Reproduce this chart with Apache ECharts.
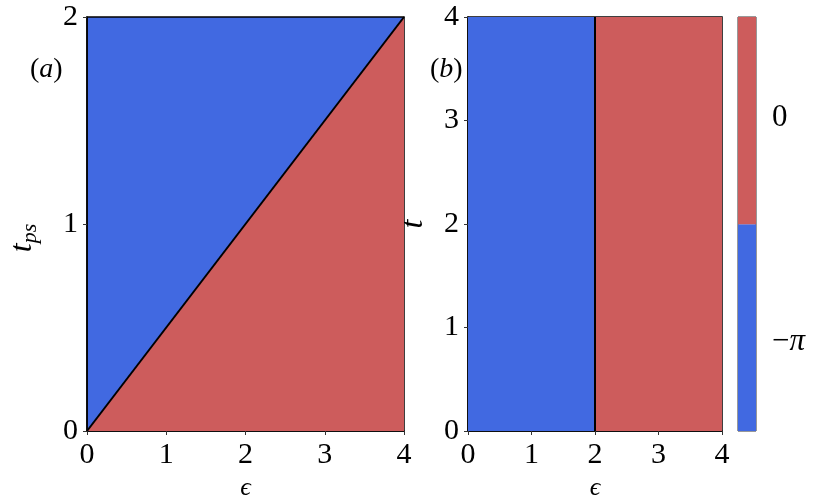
<!DOCTYPE html>
<html>
<head>
<meta charset="utf-8">
<script src="https://cdn.jsdelivr.net/npm/echarts@6/dist/echarts.min.js"></script>
<style>
  html, body { margin: 0; padding: 0; background: #fff; }
  #chart { width: 830px; height: 498px; }
</style>
</head>
<body>
<div id="chart"></div>
<script>
// panel (a): phase boundary t_ps = eps / 2
const epsTicks = [0, 1, 2, 3, 4]
const tpsTicks = [0, 1, 2]
const boundaryA = [[0, 0], [4, 2]]

// panel (b): boundary at eps = 2, t from 0 to 4
const tTicks = [0, 1, 2, 3, 4]
const boundaryB = [[2, 0], [2, 4]]
const regionsB = [[0, 2, 0], [2, 4, 1]]   // [eps0, eps1, colour index]

// colorbar
const cbBounds = [-4.39, -1.49, 1.42]
const cbTicks = [-Math.PI, 0]
const cbLabels = ["{m|\u2212}{p|\u03c0}", "{m|0}"]

const colors = ["#4169e1", "#cd5c5c"]
const font = "'Liberation Serif', 'DejaVu Serif', serif"

const chartDom = document.getElementById("chart")
const myChart = echarts.init(chartDom)

const axisCommon = {
    type: "value",
    axisLine: {show: true, lineStyle: {color: "#000", width: 1.5}},
    axisTick: {show: true, inside: false, length: 4, lineStyle: {color: "#333", width: 1}},
    splitLine: {show: false},
    axisLabel: {color: "#000", fontSize: 30, fontFamily: font, margin: 9}
}

const rectItem = (params, api) => {
    const p0 = api.coord([api.value(0), api.value(3)])
    const p1 = api.coord([api.value(1), api.value(2)])
    return {
        type: "rect",
        shape: {x: p0[0], y: p0[1], width: p1[0] - p0[0], height: p1[1] - p0[1]},
        style: {fill: colors[api.value(4)]}
    }
}

const epsName = {
    name: "\u03f5", nameLocation: "middle", nameGap: 40,
    nameTextStyle: {fontSize: 26, fontFamily: font, fontStyle: "italic", color: "#000"}
}

const option = {
    animation: false,
    grid: [
        {left: 87, top: 17, width: 317, height: 414, outerBoundsMode: "none", show: true, backgroundColor: colors[0], borderColor: "#000", borderWidth: 1.5},
        {left: 468, top: 17, width: 254, height: 414, outerBoundsMode: "none", show: true, backgroundColor: "#fff", borderColor: "#000", borderWidth: 1.5},
        {left: 738, top: 17, width: 18, height: 414, outerBoundsMode: "none", show: true, backgroundColor: "#fff", borderColor: "#333", borderWidth: 1}
    ],
    xAxis: [
        {...axisCommon, ...epsName, gridIndex: 0, min: 0, max: 4, interval: 1},
        {...axisCommon, ...epsName, gridIndex: 1, min: 0, max: 4, interval: 1},
        {type: "value", gridIndex: 2, min: 0, max: 1, show: false}
    ],
    yAxis: [
        {...axisCommon, gridIndex: 0, min: 0, max: 2, interval: 1,
            name: "{t|t}{s|ps}", nameLocation: "middle", nameGap: 46, nameRotate: 90,
            nameTextStyle: {
                color: "#000",
                padding: [0, 28, 0, 0],
                rich: {
                    t: {fontSize: 32, fontFamily: font, fontStyle: "italic", color: "#000"},
                    s: {fontSize: 22, fontFamily: font, fontStyle: "italic", color: "#000", padding: [14, 0, 0, 0]}
                }
            }},
        {...axisCommon, gridIndex: 1, min: 0, max: 4, interval: 1,
            name: "t", nameLocation: "middle", nameGap: 38, nameRotate: 90,
            nameTextStyle: {fontSize: 32, fontFamily: font, fontStyle: "italic", color: "#000"}},
        {type: "value", gridIndex: 2, min: cbBounds[0], max: cbBounds[2], position: "right",
            axisLine: {show: false},
            splitLine: {show: false},
            axisTick: {show: true, length: 4, customValues: cbTicks, lineStyle: {color: "#333"}},
            axisLabel: {
                show: true, customValues: cbTicks, margin: 16,
                formatter: v => cbLabels[cbTicks.findIndex(c => Math.abs(c - v) < 1e-6)] || "",
                rich: {
                    m: {color: "#000", fontSize: 31, fontFamily: font},
                    p: {color: "#000", fontSize: 31, fontFamily: font, fontStyle: "italic"}
                }
            }}
    ],
    graphic: [
        {type: "text", left: 30, top: 56, style: {rich: {p: {font: "28px " + font}, a: {font: "italic 28px " + font}}, text: "{p|(}{a|a}{p|)}", fill: "#000"}},
        {type: "text", left: 430, top: 56, style: {rich: {p: {font: "28px " + font}, a: {font: "italic 28px " + font}}, text: "{p|(}{a|b}{p|)}", fill: "#000"}}
    ],
    series: [
        // (a) red region below the boundary
        {type: "line", xAxisIndex: 0, yAxisIndex: 0, data: boundaryA, symbol: "none",
            lineStyle: {color: "#000", width: 2}, areaStyle: {color: colors[1], opacity: 1}, z: 3},
        // (b) regions
        {type: "custom", xAxisIndex: 1, yAxisIndex: 1, renderItem: rectItem,
            data: regionsB.map(r => [r[0], r[1], 0, 4, r[2]]), z: 2},
        {type: "line", xAxisIndex: 1, yAxisIndex: 1, data: boundaryB, symbol: "none",
            lineStyle: {color: "#000", width: 2}, z: 3},
        // colorbar
        {type: "custom", xAxisIndex: 2, yAxisIndex: 2, renderItem: rectItem,
            data: [[0, 1, cbBounds[0], cbBounds[1], 0], [0, 1, cbBounds[1], cbBounds[2], 1]], z: 2}
    ]
}

myChart.setOption(option)
</script>
</body>
</html>
